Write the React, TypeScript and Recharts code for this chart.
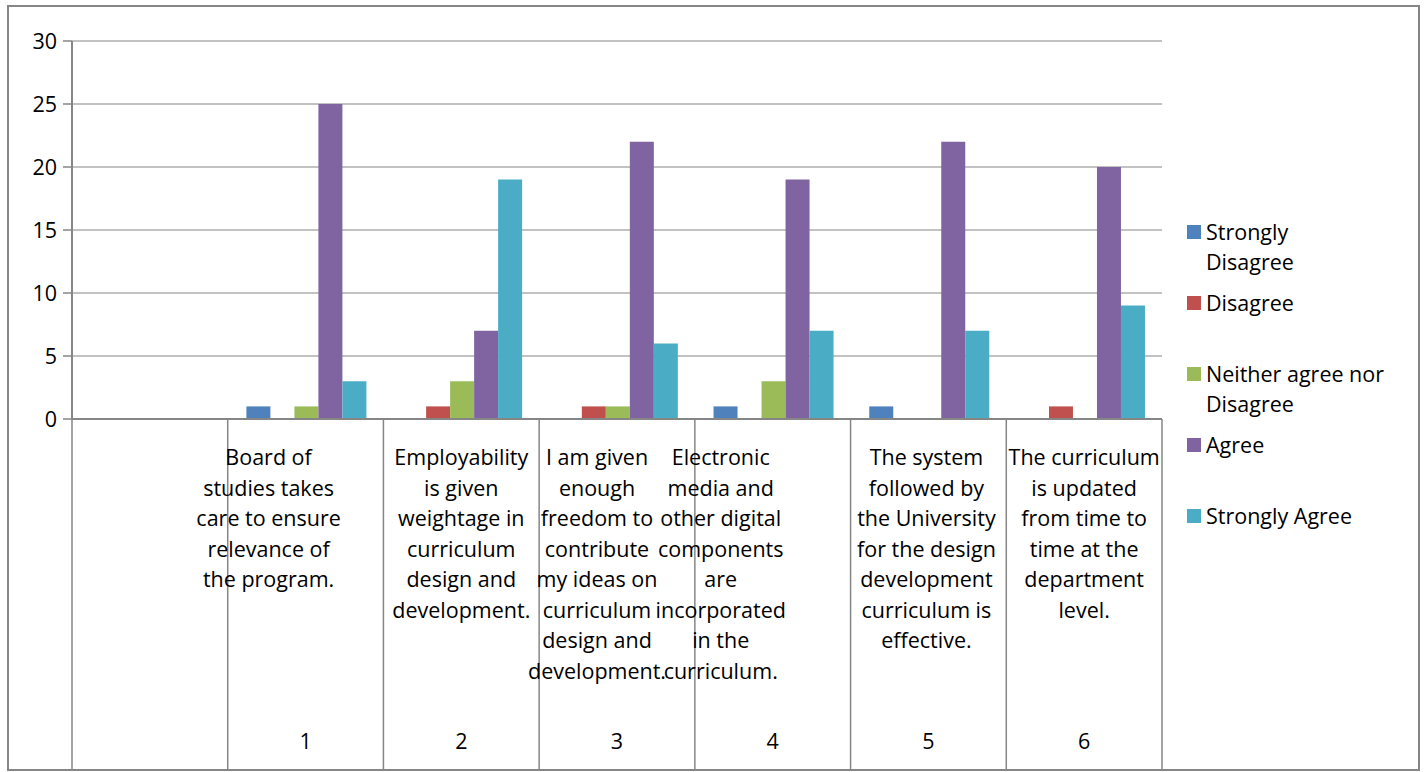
import { Bar, BarChart, CartesianGrid, Legend, XAxis, YAxis } from "recharts"

const questionNumbers = ["", "1", "2", "3", "4", "5", "6"]

// question texts, already broken into lines the way they wrap under the axis
const questionLines = [
  [],
  ["Board of", "studies takes", "care to ensure", "relevance of", "the program."],
  ["Employability", "is given", "weightage in", "curriculum", "design and", "development."],
  ["I am given", "enough", "freedom to", "contribute", "my ideas on", "curriculum", "design and", "development."],
  ["Electronic", "media and", "other digital", "components", "are", "incorporated", "in the", "curriculum."],
  ["The system", "followed by", "the University", "for the design", "development", "curriculum is", "effective."],
  ["The curriculum", "is updated", "from time to", "time at the", "department", "level."],
]

const seriesNames = ["Strongly Disagree", "Disagree", "Neither agree nor Disagree", "Agree", "Strongly Agree"]
const stronglyDisagree = [null, 1, 0, 0, 1, 1, 0]
const disagree = [null, 0, 1, 1, 0, 0, 1]
const neither = [null, 1, 3, 1, 3, 0, 0]
const agree = [null, 25, 7, 22, 19, 22, 20]
const stronglyAgree = [null, 3, 19, 6, 7, 7, 9]
const yTicks = [0, 5, 10, 15, 20, 25, 30]

const colors = ["#4F81BD", "#C0504D", "#9BBB59", "#8064A2", "#4BACC6"]
const legendWrap: Record<string, string[]> = {
  "Strongly Disagree": ["Strongly", "Disagree"],
  "Neither agree nor Disagree": ["Neither agree nor", "Disagree"],
}
// excel nudges some of the wrapped labels off-centre
const labelShift = [0, -37, 0, -20, -52, -2, 0]

const FONT = "'Open Sans', 'Liberation Sans', sans-serif"
const FS = 21.5
const GRID = "#868686"
const AXIS_H = 350

const seriesValues = [stronglyDisagree, disagree, neither, agree, stronglyAgree]
const data = questionNumbers.map((num, i) => {
  const row: Record<string, any> = { num, idx: i }
  seriesNames.forEach((name, s) => {
    row[name] = seriesValues[s][i]
  })
  return row
})

function CategoryTick(props: any) {
  const { x, y, payload } = props
  const i = payload.index ?? 0
  const half = payload.offset ?? 77.8
  const lines = questionLines[i] || []
  return (
    <g>
      <line x1={x - half} x2={x - half} y1={y} y2={y + AXIS_H} stroke={GRID} strokeWidth={1.5} />
      {i === questionNumbers.length - 1 && (
        <line x1={x + half} x2={x + half} y1={y} y2={y + AXIS_H} stroke={GRID} strokeWidth={1.5} />
      )}
      <text x={x + labelShift[i]} y={y + 46} textAnchor="middle" fontSize={FS} fill="#000" fontFamily={FONT}>
        {lines.map((line, k) => (
          <tspan key={k} x={x + labelShift[i]} dy={k === 0 ? 0 : 30.5}>
            {line}
          </tspan>
        ))}
      </text>
      <text x={x} y={y + 330} textAnchor="middle" fontSize={FS} fill="#000" fontFamily={FONT}>
        {questionNumbers[i]}
      </text>
    </g>
  )
}

function LegendBox(props: any) {
  const items = [...(props.payload || [])].sort(
    (a: any, b: any) => seriesNames.indexOf(a.value) - seriesNames.indexOf(b.value)
  )
  return (
    <div style={{ fontFamily: FONT, fontSize: FS, color: "#000" }}>
      {items.map((entry: any) => {
        const lines = legendWrap[entry.value] || [entry.value]
        return (
          <div key={entry.value} style={{ height: 71, display: "flex", alignItems: "flex-start" }}>
            <span
              style={{
                display: "inline-block",
                width: 14,
                height: 14,
                background: entry.color,
                marginTop: 8,
                marginRight: 5,
                flex: "none",
              }}
            />
            <div style={{ lineHeight: "30px" }}>
              {lines.map((l) => (
                <div key={l}>{l}</div>
              ))}
            </div>
          </div>
        )
      })}
    </div>
  )
}

export default function App() {
  return (
    <div
      style={{
        position: "absolute",
        left: 7,
        top: 5,
        width: 1409,
        height: 762,
        border: `2px solid ${GRID}`,
        background: "#fff",
      }}
    >
      <BarChart
        width={1409}
        height={762}
        data={data}
        margin={{ top: 34, right: 36, bottom: 0, left: 13 }}
        barCategoryGap="12%"
        barGap={0}
      >
        <CartesianGrid vertical={false} stroke={GRID} strokeWidth={1.2} />
        <XAxis
          dataKey="num"
          height={AXIS_H}
          interval={0}
          tickLine={false}
          tickSize={0}
          tickMargin={0}
          axisLine={{ stroke: GRID, strokeWidth: 2 }}
          tick={<CategoryTick />}
        />
        <YAxis
          width={50}
          domain={[0, 30]}
          ticks={yTicks}
          interval={0}
          tickSize={9}
          tickMargin={6}
          axisLine={{ stroke: GRID, strokeWidth: 2 }}
          tickLine={{ stroke: GRID, strokeWidth: 1.5 }}
          tick={{ fill: "#000", fontSize: FS, fontFamily: FONT }}
        />
        <Legend
          layout="vertical"
          align="right"
          verticalAlign="top"
          content={<LegendBox />}
          wrapperStyle={{ left: 1178, top: 210, width: 220, right: "auto" }}
        />
        {seriesNames.map((name, s) => (
          <Bar key={name} dataKey={name} fill={colors[s]} isAnimationActive={false} />
        ))}
      </BarChart>
    </div>
  )
}
